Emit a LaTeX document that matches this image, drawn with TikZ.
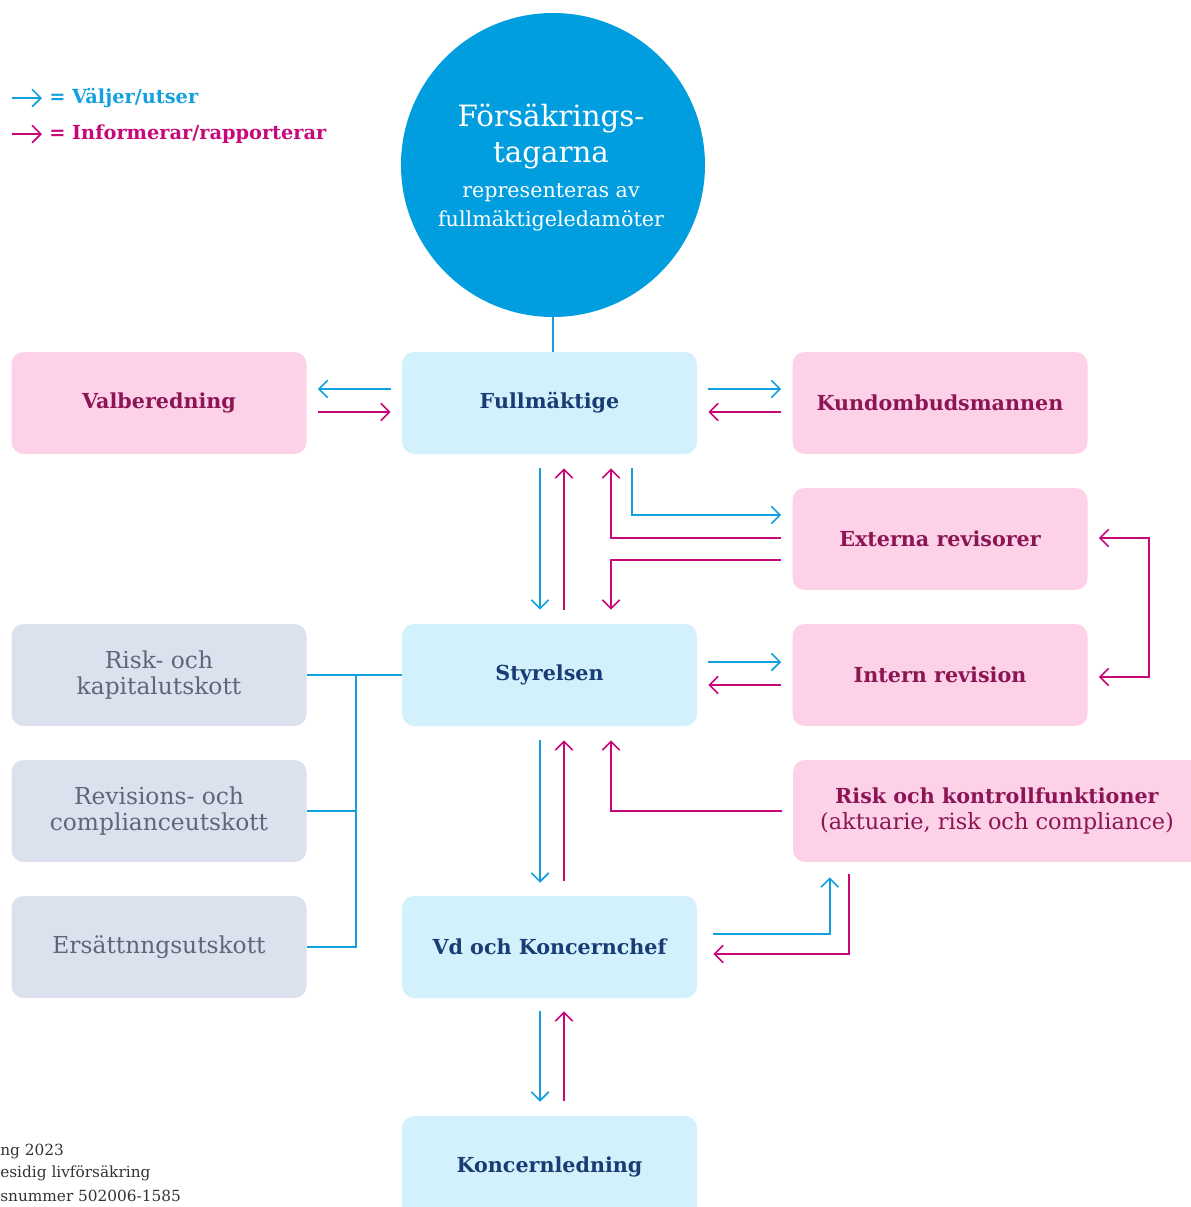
\documentclass[tikz,border=0pt]{standalone}
\usepackage{fontspec}
\setmainfont{DejaVu Serif}
\usetikzlibrary{arrows.meta,calc}
\definecolor{cblue}{HTML}{12A1DE}
\definecolor{cmag}{HTML}{C8087A}
\definecolor{circblue}{HTML}{009DDF}
\definecolor{pinkfill}{HTML}{FDD1E8}
\definecolor{bluefill}{HTML}{D3F1FD}
\definecolor{grayfill}{HTML}{DCE1EE}
\definecolor{pinktext}{HTML}{8C1654}
\definecolor{navytext}{HTML}{183C73}
\definecolor{graytext}{HTML}{5E6679}
\definecolor{foottext}{HTML}{333333}
\tikzset{
  boxbase/.style={rounded corners=9pt, minimum width=221.25pt, minimum height=76.5pt, inner sep=0pt, align=center},
  pinkbox/.style={boxbase, fill=pinkfill, text=pinktext, font=\fontsize{15.5}{19}\selectfont\bfseries},
  bluebox/.style={boxbase, fill=bluefill, text=navytext, font=\fontsize{15.5}{19}\selectfont\bfseries},
  graybox/.style={boxbase, fill=grayfill, text=graytext, font=\fontsize{17.5}{19.5}\selectfont},
  tipb/.tip={Straight Barb[length=6.5pt, width=13pt, line width=1.3pt]},
  bl/.style={draw=cblue, line width=1.3pt, -tipb},
  mg/.style={draw=cmag, line width=1.3pt, -tipb},
  blline/.style={draw=cblue, line width=1.3pt},
}
\begin{document}
\begin{tikzpicture}[x=0.75pt, y=-0.75pt]
\useasboundingbox (0,0) rectangle (1191,1207);

% circle
\node[circle, fill=circblue, minimum size=228pt, inner sep=0pt] (circ) at (553,165) {};
\node[text=white, font=\fontsize{22}{27}\selectfont, align=center] (ct1) at (551,137) {Försäkrings-\\tagarna};
\node[text=white, font=\fontsize{15.5}{22}\selectfont, align=center] (ct2) at (551,207) {representeras av\\fullmäktigeledamöter};

% boxes
\node[pinkbox] (vb) at (159,403) {Valberedning};
\node[bluebox] (fm) at (549.5,403) {Fullmäktige};
\node[pinkbox] (kb) at (940,403) {Kundombudsmannen};
\node[pinkbox] (er) at (940,539) {Externa revisorer};
\node[bluebox] (st) at (549.5,675) {Styrelsen};
\node[pinkbox] (ir) at (940,675) {Intern revision};
\node[graybox] (c1) at (159,675) {Risk- och\\kapitalutskott};
\node[graybox] (c2) at (159,811) {Revisions- och\\complianceutskott};
\node[graybox] (c3) at (159,947) {Ersättnngsutskott};
\node[boxbase, minimum width=306pt, fill=pinkfill, text=pinktext, font=\fontsize{15.5}{20}\selectfont] (rk) at (997,811) {\textbf{Risk och kontrollfunktioner}\\{\fontsize{16.8}{20}\selectfont(aktuarie, risk och compliance)}};
\node[bluebox] (vd) at (549.5,947) {Vd och Koncernchef};
\node[bluebox] (kl) at (549.5,1167) {Koncernledning};

% legend
\coordinate (lg1a) at (12,98); \coordinate (lg1b) at (42,98);
\coordinate (lg2a) at (12,134); \coordinate (lg2b) at (42,134);
\draw[bl] (lg1a) -- (lg1b);
\draw[mg] (lg2a) -- (lg2b);
\node[anchor=west, inner sep=0pt, text=cblue, font=\fontsize{14.5}{17}\selectfont\bfseries] (lgt1) at (49,98) {= Väljer/utser};
\node[anchor=west, inner sep=0pt, text=cmag, font=\fontsize{14.5}{17}\selectfont\bfseries] (lgt2) at (49,134) {= Informerar/rapporterar};

% footer
\node[anchor=west, inner sep=0pt, text=foottext, font=\fontsize{11.5}{14}\selectfont] (f1) at (0,1151) {ng 2023};
\node[anchor=west, inner sep=0pt, text=foottext, font=\fontsize{11.5}{14}\selectfont] (f2) at (0,1173) {esidig livförsäkring};
\node[anchor=west, inner sep=0pt, text=foottext, font=\fontsize{11.5}{14}\selectfont] (f3) at (0,1196) {snummer 502006-1585};

% circle to Fullmaktige
\draw[blline] (circ.south) -- (circ.south |- fm.north);

% Valberedning <-> Fullmaktige
\draw[bl] ($(fm.west)+(-11,-14)$) -- ($(vb.east)+(11,-14)$);
\draw[mg] ($(vb.east)+(11,9)$) -- ($(fm.west)+(-11,9)$);
% Fullmaktige <-> Kundombudsmannen
\draw[bl] ($(fm.east)+(11,-14)$) -- ($(kb.west)+(-11,-14)$);
\draw[mg] ($(kb.west)+(-11,9)$) -- ($(fm.east)+(11,9)$);
% Fullmaktige <-> Styrelsen
\draw[bl] ($(fm.south)+(-9.5,14)$) -- ($(st.north)+(-9.5,-14)$);
\draw[mg] ($(st.north)+(14.5,-14)$) -- ($(fm.south)+(14.5,14)$);
% Externa revisorer
\draw[mg] ($(er.west)+(-11,-1)$) -| ($(fm.south)+(61.5,14)$);
\draw[mg] ($(er.west)+(-11,21)$) -| ($(st.north)+(61.5,-14)$);
\draw[bl] ($(fm.south)+(82.5,14)$) |- ($(er.west)+(-11,-24)$);
% bracket externa / intern
\draw[draw=cmag, line width=1.3pt, tipb-tipb] ($(er.east)+(11,-1)$) -- ($(er.east)+(61,-1)$) |- ($(ir.east)+(11,2)$);
% Styrelsen <-> Intern revision
\draw[bl] ($(st.east)+(11,-13)$) -- ($(ir.west)+(-11,-13)$);
\draw[mg] ($(ir.west)+(-11,10)$) -- ($(st.east)+(11,10)$);
% Styrelsen <-> Vd
\draw[bl] ($(st.south)+(-9.5,14)$) -- ($(vd.north)+(-9.5,-13)$);
\draw[mg] ($(vd.north)+(14.5,-15)$) -- ($(st.south)+(14.5,14)$);
% Risk -> Styrelsen
\draw[mg] ($(rk.west)+(-11,0)$) -| ($(st.south)+(61.5,14)$);
% Vd <-> Risk
\draw[bl] ($(vd.east)+(16,-13)$) -| ($(rk.south west)+(37,15)$);
\draw[mg] ($(rk.south west)+(56,12)$) |- ($(vd.east)+(16,7)$);
% Vd <-> Koncernledning
\draw[bl] ($(vd.south)+(-9.5,13)$) -- ($(kl.north)+(-9.5,-14)$);
\draw[mg] ($(kl.north)+(14.5,-15)$) -- ($(vd.south)+(14.5,13)$);
% committees
\draw[blline] (st.west) -- (c1.east);
\draw[blline] ($(c1.east)+(49,0)$) |- (c3.east);
\draw[blline] (c2.east) -- ($(c2.east)+(49,0)$);
\end{tikzpicture}
\end{document}
